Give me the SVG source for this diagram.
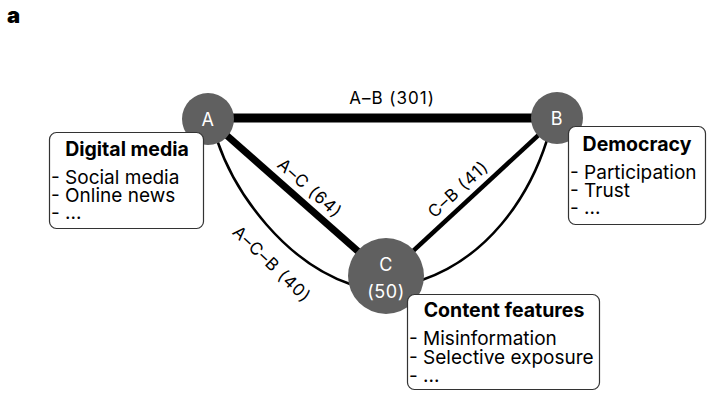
<svg xmlns="http://www.w3.org/2000/svg" width="716" height="404" viewBox="0 0 716 404">
<style>
text{font-family:Inter,"Liberation Sans",sans-serif;fill:#000}
.node{fill:#606060}
.nl{fill:#fff;font-size:18px;letter-spacing:0.5px;text-anchor:middle}
.el{font-size:17px;letter-spacing:1px;text-anchor:middle}
.box{fill:#fff;stroke:#333;stroke-width:1.2}
.bt{font-size:19.5px;font-weight:700;text-anchor:middle}
.bi{font-size:19px}
.edge{stroke:#000;fill:none}
</style>
<rect width="716" height="404" fill="#fff"/>
<text x="7" y="23" style="font-size:22px;font-weight:900">a</text>
<g id="connectors">
<line class="edge" x1="207" y1="118" x2="557" y2="118" stroke-width="9"/>
<line class="edge" x1="207" y1="118" x2="386" y2="276" stroke-width="7"/>
<line class="edge" x1="386" y1="276" x2="557" y2="118" stroke-width="4.5"/>
<path class="edge" d="M217,140 C236,196 286,262 350,284" stroke-width="2.5"/>
<path class="edge" d="M422,280 C486,258 528,200 547,140" stroke-width="2.5"/>
<text class="el" x="392" y="104">A–B (301)</text>
<text class="el" transform="translate(310,188) rotate(41.3)" y="6">A–C (64)</text>
<text class="el" transform="translate(458,189) rotate(-42.6)" y="6">C–B (41)</text>
<text class="el" transform="translate(272,264) rotate(44)" y="6">A–C–B (40)</text>
</g>
<g id="node-A">
<circle class="node" cx="208" cy="119" r="26"/>
<text class="nl" x="208" y="125.5">A</text>
<rect class="box" x="49.5" y="132.5" width="154" height="96" rx="7"/>
<text class="bt" x="127" y="156">Digital media</text>
<text class="bi" x="51" y="184">- Social media</text>
<text class="bi" x="51" y="202">- Online news</text>
<text class="bi" x="51" y="219">- ...</text>
</g>
<g id="node-B">
<circle class="node" cx="557" cy="118" r="26"/>
<text class="nl" x="557" y="124.5">B</text>
<rect class="box" x="568.5" y="126.5" width="137" height="98" rx="7"/>
<text class="bt" x="637" y="151">Democracy</text>
<text class="bi" x="570" y="179">- Participation</text>
<text class="bi" x="570" y="197">- Trust</text>
<text class="bi" x="570" y="214">- ...</text>
</g>
<g id="node-C">
<circle class="node" cx="386" cy="276" r="38"/>
<text class="nl" x="386" y="271">C</text>
<text class="nl" x="386" y="298">(50)</text>
<rect class="box" x="407.5" y="294.5" width="192" height="95" rx="7"/>
<text class="bt" x="504" y="317">Content features</text>
<text class="bi" x="409" y="345">- Misinformation</text>
<text class="bi" x="409" y="364">- Selective exposure</text>
<text class="bi" x="409" y="382">- ...</text>
</g>
</svg>
